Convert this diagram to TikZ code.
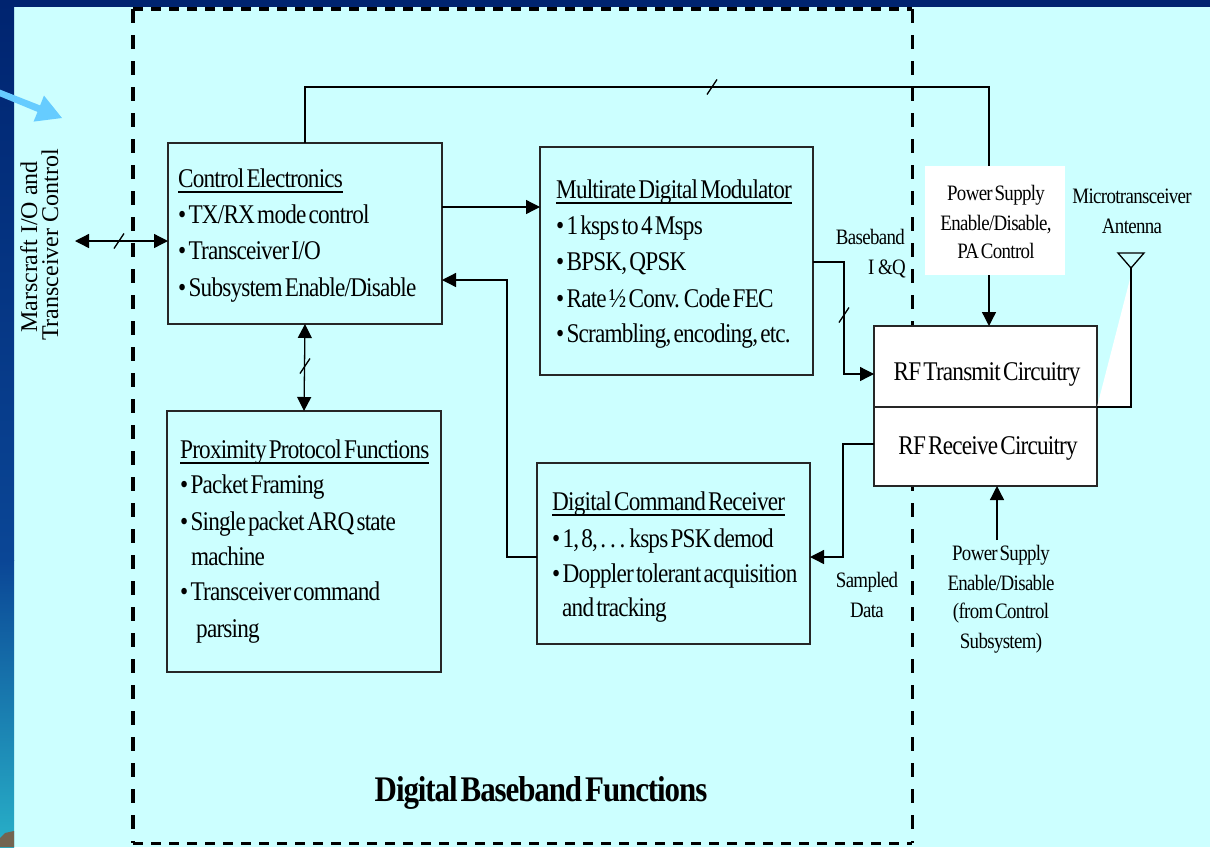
\documentclass[tikz,border=0pt]{standalone}
\usepackage{fontspec}
\setmainfont{Liberation Serif}[FakeStretch=0.86, LetterSpace=-3, WordSpace=0.45]
\newfontfamily\sidefont{Liberation Serif}
\usetikzlibrary{arrows.meta,calc}

\definecolor{paper}{RGB}{204,255,255}
\definecolor{stripTop}{RGB}{0,36,112}
\definecolor{stripMid}{RGB}{10,70,150}
\definecolor{stripBot}{RGB}{40,176,200}
\definecolor{skyarrow}{RGB}{102,204,255}
\definecolor{rockbrown}{RGB}{115,100,80}

% heading with a rule just under the baseline
\newcommand\headline[1]{\sbox0{#1}\rlap{\rule[-5.5pt]{\wd0}{2pt}}\usebox0}

\begin{document}
\begin{tikzpicture}[x=1pt,y=-1pt,
  blk/.style={draw=black!85, line width=1.8pt, anchor=north west, inner sep=0pt, outer sep=0pt},
  rfbox/.style={blk, fill=white},
  conn/.style={line width=1.3pt, draw=black},
  arrowto/.style={-{Triangle[length=14pt,width=14pt]}},
  arrowboth/.style={{Triangle[length=14pt,width=14pt]}-{Triangle[length=14pt,width=14pt]}},
  slashmark/.style={line width=1.3pt},
  txt/.style={anchor=base west, inner sep=0pt, font=\fontsize{27}{30}\selectfont},
  lab/.style={anchor=base, inner sep=0pt, font=\fontsize{22}{26}\selectfont},
  frameV/.style={line width=3.5pt, dash pattern=on 14pt off 12pt},
  frameH/.style={line width=3.5pt, dash pattern=on 10pt off 8pt},
]
\useasboundingbox (0,0) rectangle (1210,847);

% slide background
\fill[paper] (0,0) rectangle (1210,847);
\shade[top color=stripTop, bottom color=stripMid] (0,0) rectangle (14,560);
\shade[top color=stripMid, bottom color=stripBot] (0,560) rectangle (14,847);
\fill[stripTop] (0,0) rectangle (1210,7);
\fill[rockbrown] (0,847) -- (0,838) -- (5,833) -- (14,831) -- (14,847) -- cycle;
\fill[skyarrow] (0,89.6) -- (40.1,105.4) -- (44,95.6) -- (62,118) -- (33.6,121.6) -- (37.5,111.9) -- (0,96.4) -- cycle;

% digital baseband boundary
\node[minimum width=779, minimum height=834, anchor=north west, inner sep=0pt] (frame) at (133,9) {};
\draw[frameV] (frame.north west) -- (frame.south west);
\draw[frameV] (frame.north east) -- (frame.south east);
\draw[frameH] (frame.north west) -- (frame.north east);
\draw[frameH] (frame.south west) -- (frame.south east);

% blocks
\node[blk, minimum width=274, minimum height=181] (ce) at (168,143) {};
\node[blk, minimum width=273, minimum height=228] (mod) at (540,147) {};
\node[blk, minimum width=274, minimum height=261] (prox) at (167,411) {};
\node[blk, minimum width=273, minimum height=181] (dcr) at (537,463) {};
\node[rfbox, minimum width=223, minimum height=81] (rft) at (874,326) {};
\node[rfbox, minimum width=223, minimum height=79] (rfr) at (874,407) {};

% connectors
\coordinate (mio) at (75,241);
\draw[conn, arrowboth] (mio) -- (ce.west |- mio);
\draw[conn, arrowboth] (ce.south) -- (prox.north);
\draw[conn, arrowto] (ce.east |- 0,207) -- (mod.west |- 0,207);
\draw[conn, arrowto] (dcr.west |- 0,557) -| (507,280) -- (ce.east |- 0,280);
\draw[conn, arrowto] (mod.east |- 0,262) -| (844,374) -- (rft.west |- 0,374);
\draw[conn, arrowto] (rfr.west |- 0,444) -| (843,557) -- (dcr.east |- 0,557);
\draw[conn, arrowto] (ce.north) |- (712,87) -| ([xshift=3.5pt]rft.north);
\coordinate (psb) at (997,540);
\draw[conn, arrowto] (psb) -- (rfr.south -| psb);

% bus width marks
\coordinate (s1) at (119,241);
\coordinate (s2) at (712,87);
\coordinate (s3) at (305,366);
\coordinate (s4) at (844,315);
\foreach \s in {s1,s2,s3,s4}
  \draw[slashmark] ($(\s)+(-5,7.5)$) -- ($(\s)+(5,-7.5)$);

% antenna
\coordinate (ant) at (1131,268);
\fill[white] (1131,275) -- (1097,407) -- (1131,407) -- cycle;
\draw[conn] (ant) |- (rft.south east);
\draw[conn, line join=miter] (1118,253) -- (1144,253) -- (ant) -- cycle;

% power supply control box over the top bus
\node[fill=white, minimum width=140, minimum height=109, anchor=north west, inner sep=0pt] (psbox) at (925,166) {};
\node[lab] (pt1) at (996,200) {Power Supply};
\node[lab] (pt2) at (996,230) {Enable/Disable,};
\node[lab] (pt3) at (996,258) {PA Control};

% block texts
\node[txt] (ce0) at (178,187) {\headline{Control Electronics}};
\node[txt] (ce1) at (178,223) {\textbullet\ TX/RX mode control};
\node[txt] (ce2) at (178,259) {\textbullet\ Transceiver I/O};
\node[txt] (ce3) at (178,296) {\textbullet\ Subsystem Enable/Disable};

\node[txt] (md0) at (556,198) {\headline{Multirate Digital Modulator}};
\node[txt] (md1) at (556,234) {\textbullet\ 1 ksps to 4 Msps};
\node[txt] (md2) at (556,270) {\textbullet\ BPSK, QPSK};
\node[txt] (md3) at (556,307) {\textbullet\ Rate ½ Conv. Code FEC};
\node[txt] (md4) at (556,342) {\textbullet\ Scrambling, encoding, etc.};

\node[txt] (pp0) at (180,458) {\headline{Proximity Protocol Functions}};
\node[txt] (pp1) at (180,493) {\textbullet\ Packet Framing};
\node[txt] (pp2) at (180,530) {\textbullet\ Single packet ARQ state};
\node[txt] (pp3) at (191,565) {machine};
\node[txt] (pp4) at (180,600) {\textbullet\ Transceiver command};
\node[txt] (pp5) at (196,637) {parsing};

\node[txt] (dc0) at (552,510) {\headline{Digital Command Receiver}};
\node[txt] (dc1) at (552,547) {\textbullet\ 1, 8, . . . ksps PSK demod};
\node[txt] (dc2) at (552,582) {\textbullet\ Doppler tolerant acquisition};
\node[txt] (dc3) at (562,616) {and tracking};

\node[txt, anchor=base] (rf1) at (987,380) {RF Transmit Circuitry};
\node[txt, anchor=base] (rf2) at (988,454) {RF Receive Circuitry};

% side labels
\node[lab, anchor=base east] (bb1) at (905,244) {Baseband};
\node[lab, anchor=base east] (bb2) at (906,274) {I\,\&Q};
\node[lab] (sd1) at (867,587) {Sampled};
\node[lab] (sd2) at (867,617) {Data};
\node[lab] (an1) at (1132,203) {Microtransceiver};
\node[lab] (an2) at (1132,233) {Antenna};
\node[lab] (pb1) at (1001,560) {Power Supply};
\node[lab] (pb2) at (1001,590) {Enable/Disable};
\node[lab] (pb3) at (1001,618) {(from Control};
\node[lab] (pb4) at (1001,648) {Subsystem)};

\node[anchor=base, inner sep=0pt, rotate=90, font=\sidefont\fontsize{24}{28}\selectfont] (mc1) at (37,247) {Marscraft I/O and};
\node[anchor=base, inner sep=0pt, rotate=90, font=\sidefont\fontsize{24}{28}\selectfont] (mc2) at (58,245) {Transceiver Control};

\node[anchor=base, inner sep=0pt, font=\bfseries\fontsize{36}{40}\selectfont] (title) at (541,801) {Digital Baseband Functions};
\end{tikzpicture}
\end{document}
